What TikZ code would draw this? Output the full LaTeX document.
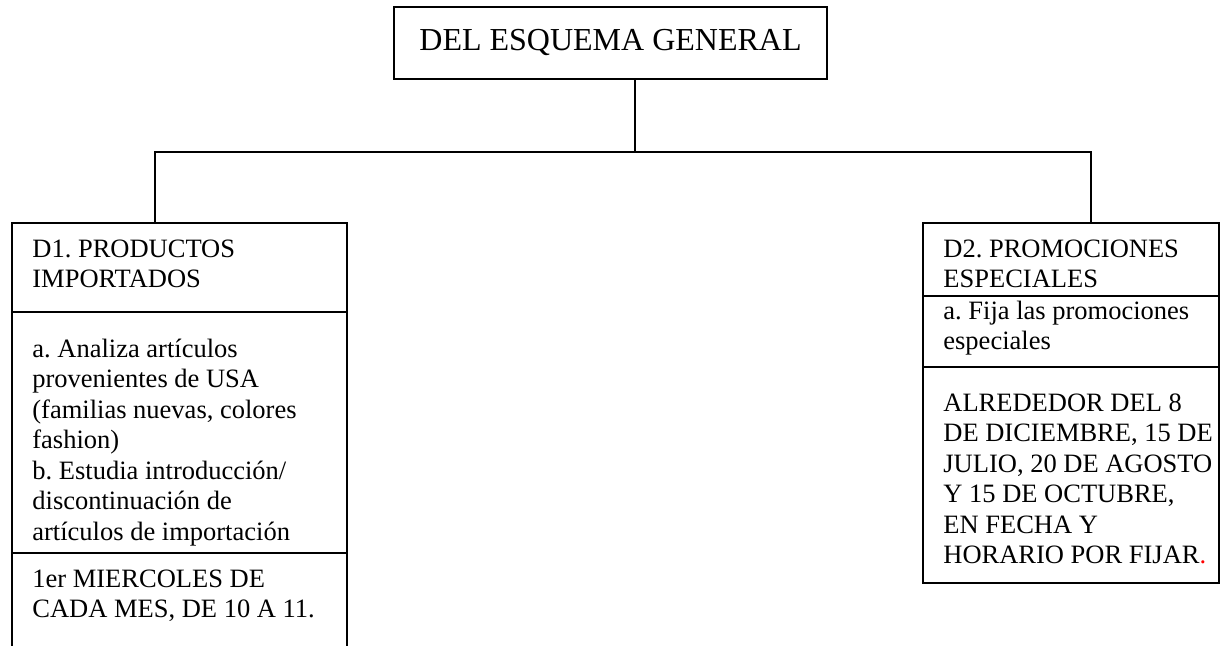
\documentclass[tikz,border=0pt]{standalone}
\usepackage{fontspec}
\setmainfont{Liberation Serif}
\usepackage{tikz}
\usetikzlibrary{positioning}

\tikzset{
  cell/.style={draw,rectangle,line width=0.8pt,outer sep=0pt,inner sep=0pt,anchor=north west},
  txt/.style={anchor=north west,inner sep=0pt,align=left,font=\fontsize{13.25pt}{15.25pt}\selectfont\frenchspacing}
}

\begin{document}
\begin{tikzpicture}[x=0.5pt,y=-0.5pt]
\useasboundingbox (0,0) rectangle (1220,645);
\node [cell,anchor=center,minimum width=216.5pt,minimum height=36pt,text height=10.5pt,text depth=3.5pt,
       font=\fontsize{16pt}{19pt}\selectfont] (top) at(610.5,43){DEL ESQUEMA GENERAL};

%left column
\node [cell,minimum width=167.5pt,minimum height=44.5pt] (d1h) at(12,223){};
\node [cell,minimum width=167.5pt,minimum height=120.5pt,below=0pt of d1h] (d1a){};
\node [cell,minimum width=167.5pt,minimum height=56pt,below=0pt of d1a] (d1b){};
\node [txt] (t1h) at([shift={(20,12.65)}]d1h.north west){\strut D1. PRODUCTOS\\IMPORTADOS};
\node [txt] (t1a) at([shift={(20,23.65)}]d1a.north west){\strut a. Analiza artículos\\provenientes de USA\\(familias nuevas, colores\\fashion)\\b. Estudia introducción/\\discontinuación de\\artículos de importación};
\node [txt] (t1b) at([shift={(20,12.65)}]d1b.north west){\strut 1er MIERCOLES DE\\CADA MES, DE 10 A 11.};

%right column
\node [cell,minimum width=148pt,minimum height=36.5pt] (d2h) at(923,223){};
\node [cell,minimum width=148pt,minimum height=35.5pt,below=0pt of d2h] (d2a){};
\node [cell,minimum width=148pt,minimum height=108pt,below=0pt of d2a] (d2b){};
\node [txt] (t2h) at([shift={(20,12.65)}]d2h.north west){\strut D2. PROMOCIONES\\ESPECIALES};
\node [txt] (t2a) at([shift={(20,1.65)}]d2a.north west){\strut a. Fija las promociones\\especiales};
\node [txt] (t2b) at([shift={(20,22.65)}]d2b.north west){\strut ALREDEDOR DEL 8\\DE DICIEMBRE, 15 DE\\JULIO, 20 DE AGOSTO\\Y 15 DE OCTUBRE,\\EN FECHA Y\\HORARIO POR FIJAR{\color{red}.}};

\coordinate (jt) at(635,152);
\coordinate (bl) at(155,152);
\coordinate (br) at(1091,152);
\draw[line width=0.8pt](top.south -| jt) -- (jt);
\draw[line width=0.8pt](bl |- d1h.north) -- (bl) -- (br) -- (br |- d2h.north);
\end{tikzpicture}
\end{document}
